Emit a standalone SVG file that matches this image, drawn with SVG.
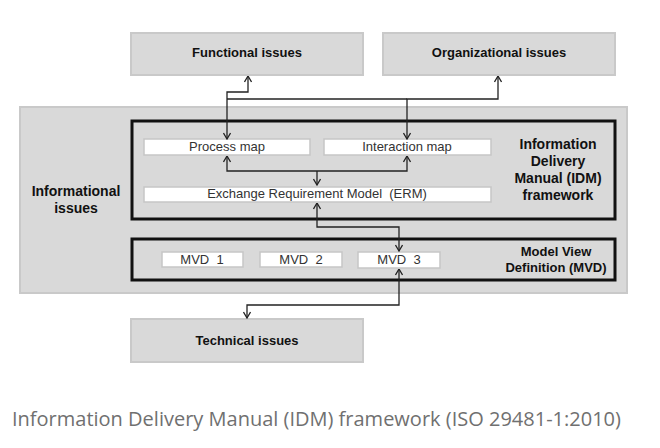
<svg xmlns="http://www.w3.org/2000/svg" width="660" height="448" viewBox="0 0 660 448">
<style>
.gbox{fill:#d9d9d9;stroke:#c9c9c9;stroke-width:2}
.wbox{fill:#ffffff;stroke:#c6c6c6;stroke-width:1.5}
.frame{fill:none;stroke:#111;stroke-width:3}
.bold{font-family:"Liberation Sans",Arial,sans-serif;font-weight:bold;fill:#111;text-anchor:middle}
.reg{font-family:"Liberation Sans",Arial,sans-serif;font-size:13px;fill:#333;text-anchor:middle}
.conn{fill:none;stroke:#222;stroke-width:1.3;marker-start:url(#arr);marker-end:url(#arr)}
.plain{fill:none;stroke:#222;stroke-width:1.3}
.cap{font-family:"Open Sans","Liberation Sans",sans-serif;font-size:20px;fill:#707070}
</style>
<defs>
<marker id="arr" viewBox="0 0 8 8" refX="7.5" refY="4" markerWidth="8" markerHeight="8" markerUnits="userSpaceOnUse" orient="auto-start-reverse">
<path d="M1.5,0.5 L7.5,4 L1.5,7.5" fill="none" stroke="#222" stroke-width="1.3"/>
</marker>
</defs>
<rect width="660" height="448" fill="#ffffff"/>

<g id="informational">
<rect class="gbox" x="20" y="107" width="607" height="186"/>
<text class="bold" font-size="14" x="76" y="196">Informational</text>
<text class="bold" font-size="14" x="76" y="213">issues</text>
</g>

<g id="functional">
<rect class="gbox" x="131" y="33" width="232" height="42"/>
<text class="bold" font-size="13" x="247" y="57">Functional issues</text>
</g>

<g id="organizational">
<rect class="gbox" x="383" y="33" width="232" height="42"/>
<text class="bold" font-size="13" x="499" y="57">Organizational issues</text>
</g>

<g id="idm">
<rect class="frame" x="132" y="121" width="483" height="98"/>
<text class="bold" font-size="14" x="558" y="149">Information</text>
<text class="bold" font-size="14" x="558" y="166">Delivery</text>
<text class="bold" font-size="14" x="558" y="183">Manual (IDM)</text>
<text class="bold" font-size="14" x="558" y="200">framework</text>
</g>

<g id="process-map">
<rect class="wbox" x="144" y="139" width="166" height="16"/>
<text class="reg" x="227" y="151">Process map</text>
</g>

<g id="interaction-map">
<rect class="wbox" x="324" y="139" width="167" height="16"/>
<text class="reg" x="407" y="151">Interaction map</text>
</g>

<g id="erm">
<rect class="wbox" x="144" y="187" width="347" height="15"/>
<text class="reg" x="317" y="198" xml:space="preserve">Exchange Requirement Model  (ERM)</text>
</g>

<g id="mvd">
<rect class="frame" x="132" y="239" width="483" height="41"/>
<text class="bold" font-size="13" x="556" y="256">Model View</text>
<text class="bold" font-size="13" x="556" y="272">Definition (MVD)</text>
</g>

<g id="mvd1">
<rect class="wbox" x="162" y="252" width="81" height="15"/>
<text class="reg" x="202" y="264" xml:space="preserve">MVD  1</text>
</g>

<g id="mvd2">
<rect class="wbox" x="260" y="252" width="82" height="15"/>
<text class="reg" x="301" y="264" xml:space="preserve">MVD  2</text>
</g>

<g id="mvd3">
<rect class="wbox" x="358" y="252" width="82" height="16"/>
<text class="reg" x="399" y="264" xml:space="preserve">MVD  3</text>
</g>

<g id="technical">
<rect class="gbox" x="131" y="319" width="232" height="43"/>
<text class="bold" font-size="13" x="247" y="345">Technical issues</text>
</g>

<g id="connectors">
<path class="conn" d="M227,139 V92 H248 V76"/>
<path class="conn" d="M407,139 V99 H498 V76"/>
<path class="plain" d="M227,99 H407"/>
<path class="conn" d="M227,156 V171 H407 V156"/>
<path class="plain" d="M317,171 V185" marker-end="url(#arr)"/>
<path class="conn" d="M317,203 V227 H399 V251"/>
<path class="conn" d="M399,269 V305 H247 V318"/>
</g>

<text class="cap" x="12" y="426">Information Delivery Manual (IDM) framework (ISO 29481-1:2010)</text>
</svg>
